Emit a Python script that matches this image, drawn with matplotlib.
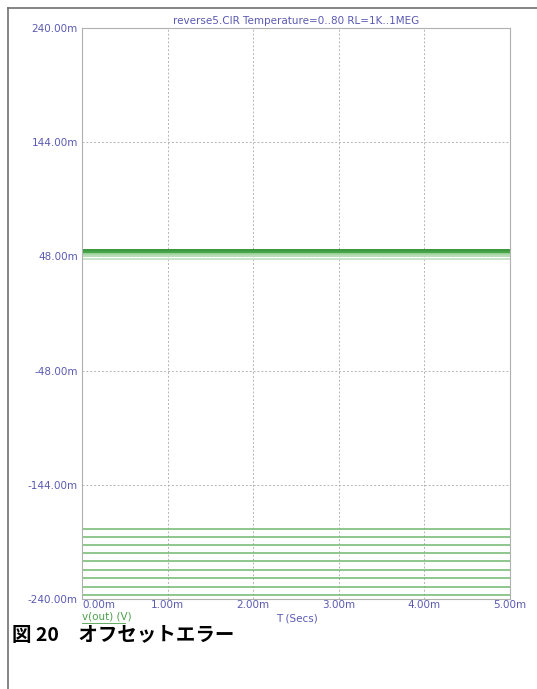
import matplotlib.pyplot as plt
from matplotlib.lines import Line2D

# === データ (値は mV) ===
t_ms = [0.0, 5.0]
upper_levels = [53.0, 52.6, 52.2, 51.8, 51.4, 50.4, 49.4, 48.4, 46.0]
lower_levels = [-180.8, -187.6, -194.3, -201.0, -207.7, -215.3, -222.0, -229.6, -236.3]
upper_colors = ["#2f8f2f", "#2f8f2f", "#3a9a3a", "#3a9a3a", "#4aa64a",
                "#8fcb8f", "#a8d6a8", "#b8ddb8", "#c4e2c4"]
y_ticks = [-240, -144, -48, 48, 144, 240]
x_ticks = [0, 1, 2, 3, 4, 5]

title = "reverse5.CIR Temperature=0..80 RL=1K..1MEG"
caption = "図 20　オフセットエラー"
label_color = "#5a5ab4"

fig = plt.figure(figsize=(5.37, 6.89), dpi=100)
ax = fig.add_axes([0.1527, 0.1306, 0.7970, 0.8288])

for lvl, c in zip(upper_levels, upper_colors):
    ax.plot(t_ms, [lvl, lvl], color=c, lw=1.3)
for lvl in lower_levels:
    ax.plot(t_ms, [lvl, lvl], color="#6fb86f", lw=1.1)

ax.set_xlim(0, 5)
ax.set_ylim(-240, 240)
ax.set_xticks(x_ticks)
ax.set_yticks(y_ticks)
ax.set_xticklabels([f"{v:.2f}m" for v in x_ticks])
ax.set_yticklabels([f"{v:.2f}m" for v in y_ticks])
ax.tick_params(length=0, labelsize=7.5, labelcolor=label_color)
ax.tick_params(axis="x", pad=1)
ax.tick_params(axis="y", pad=3)
ax.get_xticklabels()[0].set_ha("left")
ax.grid(True, color="#b4b4b4", linestyle=(0, (2, 2)), lw=0.7)
for s in ax.spines.values():
    s.set_color("#b0b0b0")
    s.set_linewidth(0.8)

ax.set_title(title, fontsize=7.5, color=label_color, pad=3)

# 軸ラベル
fig.text(0.553, 0.103, "T (Secs)", fontsize=7.5, color=label_color, ha="center", va="center")
fig.text(0.153, 0.105, "v(out) (V)", fontsize=7.5, color="#4aa04a", ha="left", va="center")
fig.add_artist(Line2D([0.153, 0.233], [0.096, 0.096], color="#4aa04a", lw=0.6))

# キャプション
fig.text(0.022, 0.077, caption, fontsize=14, fontweight="bold",
         family=["Noto Sans CJK JP", "DejaVu Sans"], ha="left", va="center")

# 外枠
fig.add_artist(Line2D([0.015, 1.0], [0.988, 0.988], color="#707070", lw=1.2))
fig.add_artist(Line2D([0.015, 0.015], [0.0, 0.988], color="#707070", lw=1.2))

fig.savefig("out.png", dpi=100)
